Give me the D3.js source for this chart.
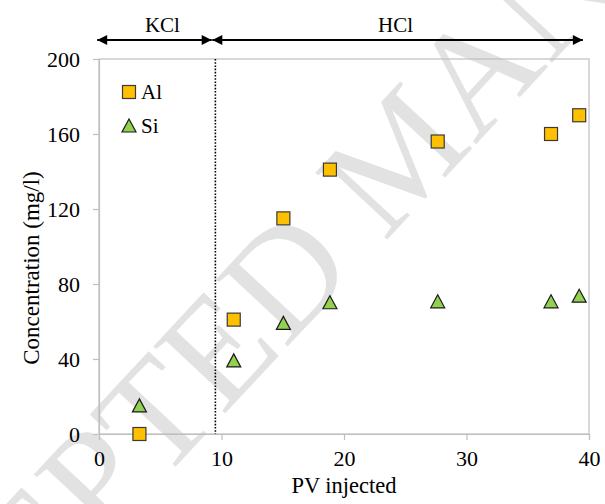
<!DOCTYPE html>
<html>
<head>
<meta charset="utf-8">
<script src="https://cdn.jsdelivr.net/npm/d3@7"></script>
<style>
  body { margin: 0; background: #fff; }
</style>
</head>
<body>
<svg id="chart"></svg>
<script>
// data
const pvAl = [3.3, 11.0, 15.05, 18.85, 27.65, 36.9, 39.2];
const alValues = [0, 61, 115, 141, 156, 160, 170];
const pvSi = [3.3, 11.0, 15.05, 18.85, 27.65, 36.9, 39.2];
const siValues = [15, 39, 59, 70, 70.5, 70.5, 73.5];
const xTicks = [0, 10, 20, 30, 40];
const yTicks = [0, 40, 80, 120, 160, 200];
const switchPV = 9.5;
const phases = [
  {name: "KCl", from: -0.15, to: 9.2},
  {name: "HCl", from: 9.25, to: 39.5}
];

const width = 605;
const height = 504;
const margin = {top: 59, right: 16, bottom: 70, left: 99};
const serif = "'Liberation Serif'";

var svg = d3.select("#chart")
              .attr("width", width)
              .attr("height", height);

var x = d3.scaleLinear()
            .domain([0, 40])
            .range([margin.left, width - margin.right]);

var y = d3.scaleLinear()
            .domain([0, 200])
            .range([height - margin.bottom, margin.top]);

// 透かし (watermark)
svg.append("text")
    .attr("transform", "translate(-170,837) rotate(-47)")
    .attr("font-size", 150)
    .attr("fill", "#e2e2e2")
    .text("ACCEPTED MANUSCRIPT");

// plot frame
svg.append("rect")
    .attr("x", x(0))
    .attr("y", y(200))
    .attr("width", x(40) - x(0))
    .attr("height", y(0) - y(200))
    .attr("fill", "none")
    .attr("stroke", "#bfbfbf")
    .attr("stroke-width", 1.2);

var xAxis = svg.append("g")
    .attr("transform", "translate(0," + y(0) + ")")
    .call(d3.axisBottom(x).tickValues(xTicks).tickSize(6).tickPadding(10));

var yAxis = svg.append("g")
    .attr("transform", "translate(" + x(0) + ",0)")
    .call(d3.axisLeft(y).tickValues(yTicks).tickSize(6).tickPadding(13));

[xAxis, yAxis].forEach(function(g) {
  g.attr("font-size", 22);
  g.select(".domain").attr("stroke", "#bfbfbf").attr("stroke-width", 1.2);
  g.selectAll(".tick line").attr("stroke", "#bfbfbf").attr("stroke-width", 1.2);
  g.selectAll(".tick text").attr("fill", "#000");
});

// axis titles
svg.append("text")
    .attr("x", (x(0) + x(40)) / 2)
    .attr("y", 493)
    .attr("text-anchor", "middle")
    .attr("font-size", 22.5)
    .text("PV injected");

svg.append("text")
    .attr("transform", "translate(39," + 268 + ") rotate(-90)")
    .attr("text-anchor", "middle")
    .attr("font-size", 23)
    .text("Concentration (mg/l)");

// KCl -> HCl boundary
svg.append("line")
    .attr("x1", x(switchPV))
    .attr("x2", x(switchPV))
    .attr("y1", y(200))
    .attr("y2", y(0))
    .attr("stroke", "#000")
    .attr("stroke-width", 1.6)
    .attr("stroke-dasharray", "1.6 1.6");

// phase arrows
var defs = svg.append("defs");
defs.append("marker")
    .attr("id", "head")
    .attr("viewBox", "0 0 10 10")
    .attr("refX", 10)
    .attr("refY", 5)
    .attr("markerWidth", 5.5)
    .attr("markerHeight", 5)
    .attr("markerUnits", "strokeWidth")
    .attr("orient", "auto-start-reverse")
    .append("path")
    .attr("d", "M0,0 L10,5 L0,10 Z")
    .attr("fill", "#000");

var arrowY = 40;
svg.selectAll(".phase")
    .data(phases)
    .enter()
    .append("line")
    .attr("class", "phase")
    .attr("x1", function(d) {return x(d.from);})
    .attr("x2", function(d) {return x(d.to);})
    .attr("y1", arrowY)
    .attr("y2", arrowY)
    .attr("stroke", "#000")
    .attr("stroke-width", 2)
    .attr("marker-start", "url(#head)")
    .attr("marker-end", "url(#head)");

svg.selectAll(".phaseLabel")
    .data(phases)
    .enter()
    .append("text")
    .attr("class", "phaseLabel")
    .attr("x", function(d) {return (x(d.from) + x(d.to)) / 2 + (d.name == "HCl" ? -2 : 8);})
    .attr("y", 32)
    .attr("text-anchor", "middle")
    .attr("font-size", 21)
    .text(function(d) {return d.name;});

// markers
var sq = 13;
var tri = "M0,-7 L7,6 L-7,6 Z";

svg.selectAll(".al")
    .data(alValues)
    .enter()
    .append("rect")
    .attr("class", "al")
    .attr("x", function(d, i) {return x(pvAl[i]) - sq / 2;})
    .attr("y", function(d) {return y(d) - sq / 2;})
    .attr("width", sq)
    .attr("height", sq)
    .style("fill", "#ffc000")
    .style("stroke", "#3a3a3a")
    .style("stroke-width", 1.2);

svg.selectAll(".si")
    .data(siValues)
    .enter()
    .append("path")
    .attr("class", "si")
    .attr("d", tri)
    .attr("transform", function(d, i) {return "translate(" + x(pvSi[i]) + "," + y(d) + ")";})
    .style("fill", "#92d050")
    .style("stroke", "#1a1a1a")
    .style("stroke-width", 1.2);

// legend
var legend = svg.append("g").attr("transform", "translate(129,0)");
legend.append("rect")
    .attr("x", -sq / 2)
    .attr("y", 92 - sq / 2)
    .attr("width", sq)
    .attr("height", sq)
    .style("fill", "#ffc000")
    .style("stroke", "#3a3a3a")
    .style("stroke-width", 1.2);
legend.append("path")
    .attr("d", tri)
    .attr("transform", "translate(0,126)")
    .style("fill", "#92d050")
    .style("stroke", "#1a1a1a")
    .style("stroke-width", 1.2);
legend.append("text").attr("x", 12).attr("y", 99).attr("font-size", 21).text("Al");
legend.append("text").attr("x", 12).attr("y", 133).attr("font-size", 21).text("Si");

// フォント指定はまとめて
svg.selectAll("text").style("font-family", serif);
</script>
</body>
</html>
